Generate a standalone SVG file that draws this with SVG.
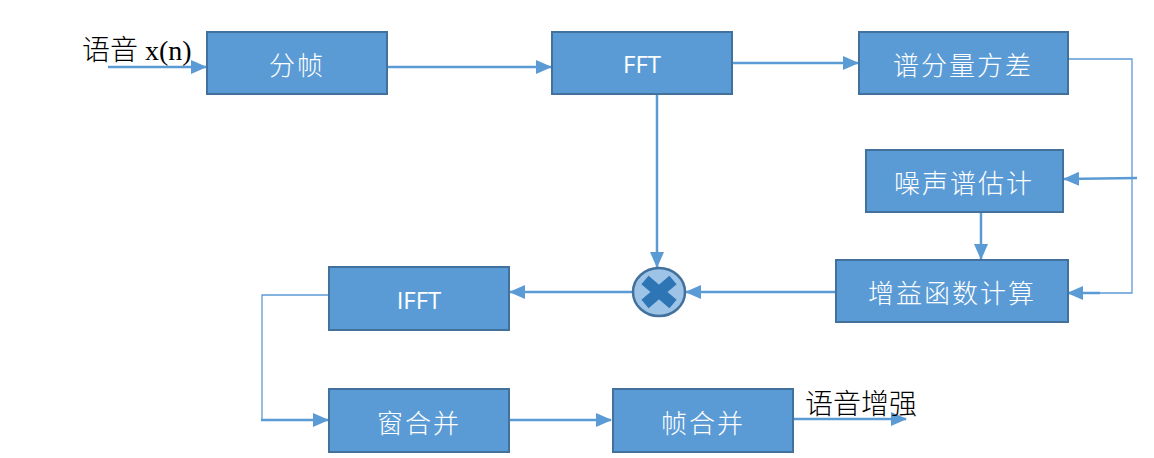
<svg xmlns="http://www.w3.org/2000/svg" width="1154" height="458" viewBox="0 0 1154 458">
<style>
.box{fill:#5b9bd5;stroke:#41719c;stroke-width:2}
.lbl{fill:#ffffff;font-family:"Noto Sans CJK SC","Noto Sans",sans-serif;font-size:26px;font-weight:300;letter-spacing:2px;text-anchor:middle;dominant-baseline:central}
.lat{fill:#ffffff;font-family:"Open Sans","Liberation Sans",sans-serif;font-size:24px;text-anchor:middle;dominant-baseline:central}
.ext{fill:#000000;font-family:"Liberation Serif","Noto Sans CJK SC",serif;font-size:28px;font-weight:300}
.ln{fill:none;stroke:#5b9bd5;stroke-width:2.5}
.thin{fill:none;stroke:#5b9bd5;stroke-width:1.3}
</style>
<defs>
<marker id="ah" viewBox="0 0 16 14" markerWidth="16" markerHeight="14" refX="15" refY="7" orient="auto" markerUnits="userSpaceOnUse">
<path d="M0,0 L16,7 L0,14 z" fill="#5b9bd5"/>
</marker>
</defs>
<g id="connectors">
<line class="ln" x1="108" y1="67" x2="206" y2="67" marker-end="url(#ah)"/>
<line class="ln" x1="388" y1="67" x2="551" y2="67" marker-end="url(#ah)"/>
<line class="ln" x1="733" y1="63" x2="858" y2="63" marker-end="url(#ah)"/>
<polyline class="thin" points="1069,59 1132,59 1132,293 1100,293"/>
<line class="ln" x1="1100" y1="293" x2="1068" y2="293" marker-end="url(#ah)"/>
<line class="ln" x1="1137" y1="178" x2="1064" y2="179" marker-end="url(#ah)"/>
<line class="ln" x1="981" y1="212" x2="981" y2="259" marker-end="url(#ah)"/>
<line class="ln" x1="657" y1="94" x2="657" y2="267" marker-end="url(#ah)"/>
<line class="ln" x1="835" y1="292" x2="686" y2="292" marker-end="url(#ah)"/>
<line class="ln" x1="633" y1="292" x2="510" y2="292" marker-end="url(#ah)"/>
<polyline class="thin" points="329,295 262,295 262,420 290,420"/>
<line class="ln" x1="261" y1="420" x2="328" y2="420" marker-end="url(#ah)"/>
<line class="ln" x1="510" y1="420" x2="611" y2="420" marker-end="url(#ah)"/>
<line class="ln" x1="794" y1="419" x2="906" y2="419" marker-end="url(#ah)"/>
</g>
<g id="n-input"><text class="ext" x="82" y="60">语音 x(n)</text></g>
<g id="n-fenzhen"><rect class="box" x="207" y="32" width="180" height="62"/><text class="lbl" x="297" y="63">分帧</text></g>
<g id="n-fft"><rect class="box" x="552" y="32" width="180" height="62"/><text class="lat" x="642" y="63">FFT</text></g>
<g id="n-var"><rect class="box" x="859" y="32" width="209" height="62"/><text class="lbl" x="963" y="63">谱分量方差</text></g>
<g id="n-noise"><rect class="box" x="866" y="150" width="197" height="62"/><text class="lbl" x="964" y="181">噪声谱估计</text></g>
<g id="n-gain"><rect class="box" x="836" y="260" width="232" height="62"/><text class="lbl" x="952" y="291">增益函数计算</text></g>
<g id="n-mult">
<ellipse cx="659" cy="292" rx="26" ry="24" fill="#9dc3e6" stroke="#41719c" stroke-width="2.5"/>
<path d="M645,280 L673,304 M673,280 L645,304" stroke="#2e75b6" stroke-width="11" fill="none"/>
</g>
<g id="n-ifft"><rect class="box" x="329" y="267" width="180" height="63"/><text class="lat" x="419" y="299">IFFT</text></g>
<g id="n-win"><rect class="box" x="329" y="389" width="180" height="63"/><text class="lbl" x="419" y="421">窗合并</text></g>
<g id="n-frame"><rect class="box" x="613" y="389" width="180" height="63"/><text class="lbl" x="703" y="421">帧合并</text></g>
<g id="n-output"><text class="ext" x="805" y="414">语音增强</text></g>
</svg>
